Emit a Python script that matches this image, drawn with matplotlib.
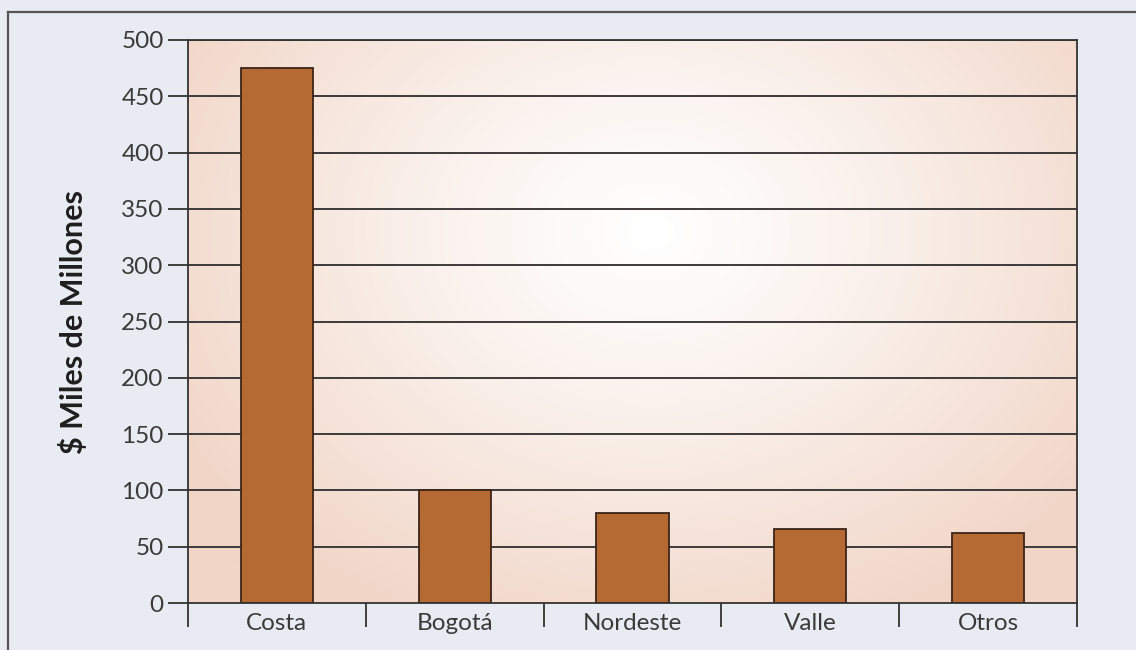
import numpy as np
import matplotlib
matplotlib.use("Agg")
import matplotlib.pyplot as plt
from matplotlib.lines import Line2D

# Data
regions = ["Costa", "Bogotá", "Nordeste", "Valle", "Otros"]
values = [475, 100, 80, 66, 62]
y_ticks = [0, 50, 100, 150, 200, 250, 300, 350, 400, 450, 500]
y_label = "$ Miles de Millones"

plt.rcParams["font.family"] = ["Lato", "DejaVu Sans"]

W, H = 1136, 650
fig = plt.figure(figsize=(W / 100, H / 100), dpi=100, facecolor="#e9ebf2")
ax = fig.add_axes([188 / W, 1 - 603 / H, (1077 - 188) / W, (603 - 40) / H])

n = len(regions)
ax.set_xlim(0, n)
ax.set_ylim(0, 500)

# radial gradient backdrop: white centre fading to peach edges
gx = np.linspace(0, 1, 400)
gy = np.linspace(0, 1, 300)
X, Y = np.meshgrid(gx, gy)
r = np.sqrt(((X - 0.52) / 0.62) ** 2 + ((Y - 0.66) / 0.78) ** 2)
t = np.clip(r, 0, 1) ** 1.2
white = np.array([1.0, 1.0, 1.0])
peach = np.array([0xF1, 0xD5, 0xC6]) / 255
img = white[None, None, :] * (1 - t[..., None]) + peach[None, None, :] * t[..., None]
ax.imshow(img, extent=(0, n, 0, 500), origin="lower", aspect="auto", zorder=0)

# horizontal grid lines
for yv in y_ticks[1:]:
    ax.axhline(yv, color="#3e3a3a", lw=1.4, zorder=1)

x = np.arange(n) + 0.5
ax.bar(x, values, width=0.405, color="#b46a32", edgecolor="#3d2418",
       linewidth=1.3, zorder=2)

ax.set_yticks(y_ticks)
ax.set_yticklabels([str(v) for v in y_ticks])
ax.tick_params(axis="y", length=14.5, width=1.3, color="#333333",
               labelsize=17.5, labelcolor="#3a3a3a", pad=3)

# category separators as major ticks, labels centred as minor ticks
ax.set_xticks(np.arange(n + 1))
ax.set_xticklabels([])
ax.tick_params(axis="x", which="major", length=17, width=1.3,
               color="#333333", direction="out")
ax.set_xticks(x, minor=True)
ax.set_xticklabels(regions, minor=True)
ax.tick_params(axis="x", which="minor", length=0, labelsize=17.5,
               labelcolor="#3a3a3a", pad=7)

for s in ax.spines.values():
    s.set_color("#333333")
    s.set_linewidth(1.3)

ax.set_ylabel(y_label, fontsize=22, fontweight="bold", color="#1e1e1e")
ax.yaxis.set_label_coords(-0.113, 0.5)

# outer frame (top and left edges)
fig.add_artist(Line2D([8 / W, 8 / W], [0, 1 - 12 / H], color="#555555",
                      lw=1.6, transform=fig.transFigure))
fig.add_artist(Line2D([8 / W, 1], [1 - 12 / H, 1 - 12 / H], color="#555555",
                      lw=1.6, transform=fig.transFigure))

fig.savefig("out.png", dpi=100, facecolor=fig.get_facecolor())
